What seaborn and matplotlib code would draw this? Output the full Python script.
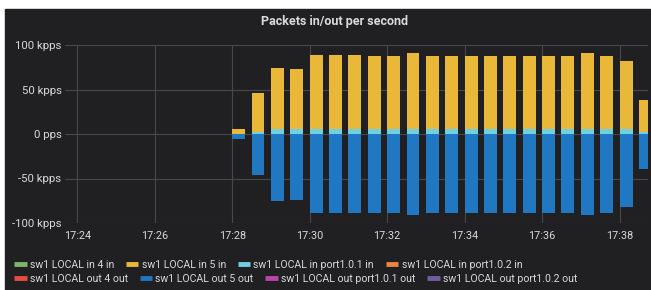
import numpy as np
import pandas as pd
import matplotlib
matplotlib.use("Agg")
import matplotlib.pyplot as plt
from matplotlib.lines import Line2D
from matplotlib.patches import Rectangle
import seaborn as sns

# sample times in minutes after 17:00, one bar every 30 s (bar starts at the sample time)
minutes = [28.0, 28.5, 29.0, 29.5, 30.0, 30.5, 31.0, 31.5, 32.0, 32.5, 33.0,
           33.5, 34.0, 34.5, 35.0, 35.5, 36.0, 36.5, 37.0, 37.5, 38.0, 38.5]

# kpps
in_5 = [6, 46, 74.5, 73, 88.5, 88.5, 88.5, 88, 88, 91, 88,
        88, 88, 88, 88, 88, 88, 88, 91, 88, 82, 38.5]
in_p101 = [0, 2.5, 5.5, 5.5, 5.5, 5.5, 5.5, 5.5, 5.5, 5.5, 5.5,
           5.5, 5.5, 5.5, 5.5, 5.5, 5.5, 5.5, 5.5, 5.5, 5.5, 2]
out_5 = [-5.6, -45.7, -75, -74, -88.5, -88.5, -88.5, -88.5, -88.5, -91, -88.5,
         -88.5, -88.5, -88.5, -88.5, -88.5, -88.5, -88.5, -91, -88.5, -82.5, -39]

x_ticks = [24, 26, 28, 30, 32, 34, 36, 38]
x_labels = ["17:24", "17:26", "17:28", "17:30", "17:32", "17:34", "17:36", "17:38"]
y_ticks = [-100, -50, 0, 50, 100]
y_labels = ["-100 kpps", "-50 kpps", "0 pps", "50 kpps", "100 kpps"]

names_in = ["sw1 LOCAL in 4 in", "sw1 LOCAL in 5 in",
            "sw1 LOCAL in port1.0.1 in", "sw1 LOCAL in port1.0.2 in"]
names_out = ["sw1 LOCAL out 4 out", "sw1 LOCAL out 5 out",
             "sw1 LOCAL out port1.0.1 out", "sw1 LOCAL out port1.0.2 out"]
colors_in = ["#7EB26D", "#EAB839", "#6ED0E0", "#EF843C"]
colors_out = ["#E24D42", "#1F78C1", "#BA43A9", "#705DA0"]

bg = "#202022"
fg = "#d8d9da"
grid = "#48484a"

sns.set_theme(style="dark", rc={"axes.facecolor": bg, "grid.color": grid})
plt.rcParams["font.family"] = ["Roboto", "DejaVu Sans"]

W, H = 651, 290
fig = plt.figure(figsize=(W / 100, H / 100), dpi=100, facecolor="white")
fig.patches.append(Rectangle((5 / W, 0), (W - 6) / W, (H - 9) / H,
                             transform=fig.transFigure, color=bg, zorder=-1))

ax = fig.add_axes([65 / W, (H - 223) / H, (648 - 65) / W, (223 - 45) / H])
ax.set_facecolor(bg)

bar_w = 20 / 60  # 20 s wide bars
df = pd.DataFrame({
    "t": np.array(minutes) + bar_w / 2,
    "in5": in_5,
    "in101": in_p101,
    "out5": out_5,
})

common = dict(native_scale=True, width=2 / 3, saturation=1, linewidth=0,
              errorbar=None, ax=ax)
sns.barplot(data=df, x="t", y="in5", color=colors_in[1], **common)
sns.barplot(data=df, x="t", y="in101", color=colors_in[2], **common)
sns.barplot(data=df, x="t", y="out5", color=colors_out[1], **common)

ax.set_xlim(23 + 41 / 60, 38 + 44 / 60)
ax.set_ylim(-100, 100)
ax.set_xticks(x_ticks)
ax.set_xticklabels(x_labels)
ax.set_yticks(y_ticks)
ax.set_yticklabels(y_labels)
ax.set_xlabel("")
ax.set_ylabel("")
ax.grid(True, color=grid, lw=0.8)
ax.set_axisbelow(True)
for s in ax.spines.values():
    s.set_visible(False)
ax.tick_params(axis="y", length=0, pad=2.5, labelsize=8.2, labelcolor=fg)
ax.tick_params(axis="x", length=0, pad=6, labelsize=7.8, labelcolor=fg)

fig.text(335 / W, 1 - 21 / H, "Packets in/out per second", ha="center", va="center",
         fontsize=9, fontweight="bold", color=fg)

# two legend rows, laid out like the grafana legend
for names, colors, yy in [(names_in, colors_in, 265), (names_out, colors_out, 279)]:
    handles = [Line2D([], [], color=c, lw=3.5, solid_capstyle="butt") for c in colors]
    fig.legend(handles, names, loc="center left", bbox_to_anchor=(14 / W, 1 - yy / H),
               ncol=4, frameon=False, fontsize=7.6, handlelength=1.2, handletextpad=0.3,
               columnspacing=1.1, borderpad=0, borderaxespad=0, labelcolor=fg)

fig.savefig("out.png", dpi=100, facecolor="white")
